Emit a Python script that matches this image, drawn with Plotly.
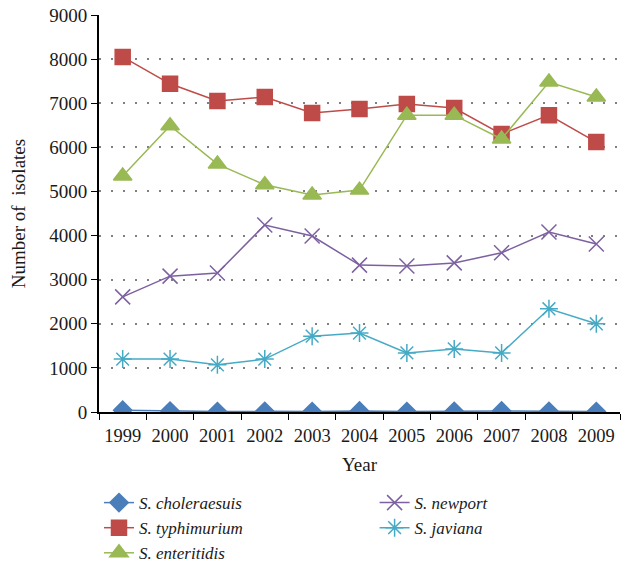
import plotly.graph_objects as go

years = ["1999", "2000", "2001", "2002", "2003", "2004", "2005", "2006", "2007", "2008", "2009"]
choleraesuis = [40, 20, 10, 15, 10, 25, 10, 15, 25, 15, 10]
typhimurium = [8050, 7440, 7050, 7140, 6780, 6870, 6980, 6890, 6300, 6730, 6120]
enteritidis = [5350, 6490, 5620, 5150, 4920, 5030, 6730, 6730, 6190, 7480, 7140]
newport = [2610, 3080, 3150, 4240, 3990, 3330, 3310, 3380, 3610, 4080, 3810]
javiana = [1200, 1200, 1070, 1200, 1720, 1790, 1340, 1430, 1340, 2340, 2000]

series = [
    ("<i>S. choleraesuis</i>", choleraesuis, "#4a7ebb", "diamond", 14, "legend"),
    ("<i>S. typhimurium</i>", typhimurium, "#be4b48", "square", 15, "legend"),
    ("<i>S. enteritidis</i>", enteritidis, "#98b954", "triangle-up", 16, "legend"),
    ("<i>S. newport</i>", newport, "#7d60a0", "x-thin-open", 15, "legend2"),
    ("<i>S. javiana</i>", javiana, "#46aac5", "asterisk-open", 15, "legend2"),
]

fig = go.Figure()
for name, vals, col, sym, sz, lg in series:
    fig.add_trace(go.Scatter(
        x=years, y=vals, name=name, mode="lines+markers",
        line=dict(color=col, width=1.5),
        marker=dict(symbol=sym, size=sz, color=col, line=dict(color=col, width=1.5)),
        legend=lg,
    ))

font_family = "Liberation Serif, DejaVu Serif, serif"
fig.update_layout(
    width=621, height=573,
    margin=dict(l=99, r=1, t=15, b=161),
    paper_bgcolor="white", plot_bgcolor="white",
    font=dict(family=font_family, size=19, color="#1a1a1a"),
    xaxis=dict(
        type="category", range=[-0.5, 10.5], automargin=False,
        showline=True, linecolor="black", linewidth=2,
        ticks="outside", tickson="boundaries", ticklen=6, tickcolor="black",
        ticklabelstandoff=6, tickangle=0,
        showgrid=False, zeroline=False,
        title=dict(text="Year", standoff=12, font=dict(size=19)),
        tickfont=dict(size=18.5),
    ),
    yaxis=dict(
        range=[0, 9000], dtick=1000, automargin=False,
        showline=True, linecolor="black", linewidth=2,
        ticks="outside", ticklen=6, tickcolor="black",
        showgrid=True, gridcolor="#808080", griddash="2px,10px", gridwidth=1.5,
        zeroline=False,
        title=dict(text="Number of  isolates", standoff=19, font=dict(size=19)),
        tickfont=dict(size=19),
    ),
    legend=dict(
        x=0.0, y=-0.184, xanchor="left", yanchor="top",
        orientation="v", font=dict(size=17), tracegroupgap=0,
        bgcolor="rgba(0,0,0,0)",
    ),
    legend2=dict(
        x=0.529, y=-0.184, xanchor="left", yanchor="top",
        orientation="v", font=dict(size=17), tracegroupgap=0,
        bgcolor="rgba(0,0,0,0)",
    ),
)

fig.write_html("out.html")
